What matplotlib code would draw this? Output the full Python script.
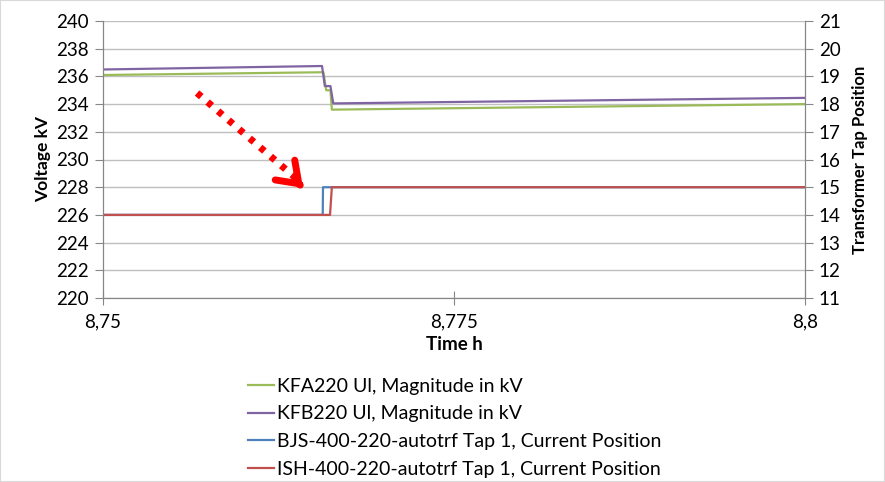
import matplotlib
matplotlib.use("Agg")
import matplotlib.pyplot as plt
from matplotlib.ticker import FixedLocator
import matplotlib.patches as mpatches

plt.rcParams['font.family'] = ['Lato', 'DejaVu Sans']

# ---- data ----
kfa_t = [8.75, 8.7657, 8.7659, 8.7662, 8.7663, 8.8]
kfa_v = [236.1, 236.3, 235.0, 235.0, 233.6, 234.0]
kfb_t = [8.75, 8.7656, 8.7658, 8.7662, 8.7664, 8.8]
kfb_v = [236.5, 236.75, 235.3, 235.3, 234.05, 234.45]
bjs_t = [8.75, 8.76565, 8.76567, 8.8]
bjs_tap = [14, 14, 15, 15]
ish_t = [8.75, 8.76617, 8.7663, 8.8]
ish_tap = [14, 14, 15, 15]
labels = ["KFA220 Ul, Magnitude in kV", "KFB220 Ul, Magnitude in kV",
          "BJS-400-220-autotrf Tap 1, Current Position",
          "ISH-400-220-autotrf Tap 1, Current Position"]
x_ticks = [8.75, 8.775, 8.8]
x_tick_labels = ["8,75", "8,775", "8,8"]
v_ticks = list(range(220, 241, 2))
tap_ticks = list(range(11, 22))

green = '#9BBB59'
purple = '#8064A2'
blue = '#4F81BD'
red = '#C0504D'
grid_c = '#BFBFBF'
spine_c = '#868686'

fig = plt.figure(figsize=(8.85, 4.82), dpi=100)
ax = fig.add_axes([103/885, 1-298/482, (805-103)/885, (298-21)/482])
ax2 = ax.twinx()

l1, = ax.plot(kfa_t, kfa_v, color=green, lw=1.6)
l2, = ax.plot(kfb_t, kfb_v, color=purple, lw=1.6)
l3, = ax2.plot(bjs_t, bjs_tap, color=blue, lw=1.6)
l4, = ax2.plot(ish_t, ish_tap, color=red, lw=1.6)

ax.set_xlim(8.75, 8.8)
ax.set_ylim(220, 240)
ax2.set_ylim(11, 21)
ax.yaxis.set_major_locator(FixedLocator(v_ticks))
ax2.yaxis.set_major_locator(FixedLocator(tap_ticks))
ax.set_xticks(x_ticks)
ax.set_xticklabels(x_tick_labels)

ax.grid(axis='y', color=grid_c, lw=1)
ax.set_axisbelow(True)
for a in (ax, ax2):
    a.spines['top'].set_visible(False)
    for s in ('left', 'right', 'bottom'):
        a.spines[s].set_color(spine_c)
ax.tick_params(axis='y', direction='out', length=6, color=spine_c, labelsize=13.5, pad=4)
ax2.tick_params(axis='y', direction='out', length=6, color=spine_c, labelsize=13.5, pad=4)
ax.tick_params(axis='x', direction='inout', length=10, color=spine_c, labelsize=13.5, pad=6)

ax.set_ylabel("Voltage kV", fontsize=12.5, fontweight='bold', labelpad=4)
ax2.set_ylabel("Transformer Tap Position", fontsize=12, fontweight='bold', labelpad=8)
ax.set_xlabel("Time h", fontsize=13.5, fontweight='bold', labelpad=4)

# red dotted arrow annotation
ax.plot([8.7567, 8.7638], [234.8, 228.6], color='red', lw=5,
        linestyle=(0, (0.8, 1.2)), solid_capstyle='butt', zorder=5)
ax.annotate('', xy=(8.76425, 227.95), xytext=(8.7640, 228.2),
            arrowprops=dict(arrowstyle='->,head_length=1.4,head_width=1.0',
                            lw=5, color='red', shrinkA=0, shrinkB=0), zorder=6)

fig.legend([l1, l2, l3, l4], labels, loc='upper left',
           bbox_to_anchor=(240/885, 1-370/482), frameon=False,
           fontsize=14, handlelength=1.35, handletextpad=0.15,
           labelspacing=0.55, borderaxespad=0)

# figure border
fig.patches.append(mpatches.Rectangle((0, 0), 1, 1, transform=fig.transFigure,
                                      fill=False, edgecolor='#D9D9D9', lw=1.5))

fig.savefig("out.png", dpi=100)
